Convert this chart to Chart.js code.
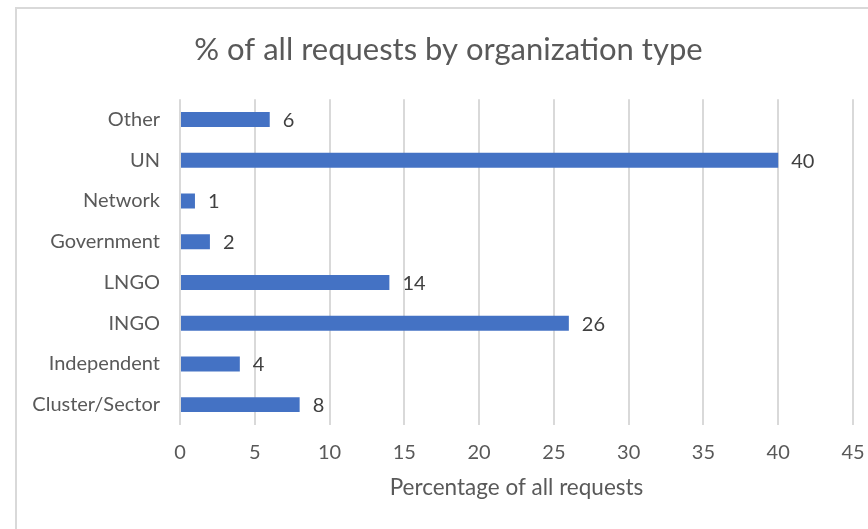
<!DOCTYPE html>
<html><head><meta charset="utf-8">
<script src="https://cdn.jsdelivr.net/npm/chart.js@4"></script>
<style>
html,body{margin:0;padding:0;overflow:hidden;background:#fff;width:868px;height:529px;}
#frame{position:absolute;left:15px;top:7px;width:900px;height:600px;border:2px solid #d9d9d9;box-sizing:border-box;}
#wrap{position:absolute;left:0;top:0;width:868px;height:529px;}
</style></head>
<body>
<div id="frame"></div>
<div id="wrap"><canvas id="c" width="868" height="529"></canvas></div>
<script>
const categories = ["Other","UN","Network","Government","LNGO","INGO","Independent","Cluster/Sector"];
const values = [6,40,1,2,14,26,4,8];
const xTicks = [0,5,10,15,20,25,30,35,40,45];

const FONT = "Lato, 'Open Sans', sans-serif";
const labelPlugin = {
  id:'barLabels',
  afterDatasetsDraw(chart){
    const ctx = chart.ctx;
    const meta = chart.getDatasetMeta(0);
    ctx.save();
    ctx.font = "20px " + FONT;
    ctx.fillStyle = "#404040";
    ctx.textAlign = "left";
    ctx.textBaseline = "middle";
    meta.data.forEach((bar,i)=>{
      ctx.fillText(String(values[i]), bar.x + 13, bar.y + 1);
    });
    ctx.restore();
  }
};

new Chart(document.getElementById('c'), {
  type:'bar',
  data:{labels:categories, datasets:[{data:values, backgroundColor:'#4472C4', borderWidth:0, barPercentage:0.367, categoryPercentage:1}]},
  options:{
    indexAxis:'y', responsive:false, animation:false,
    layout:{padding:{top:0,right:0,left:29,bottom:0}},
    plugins:{
      legend:{display:false}, tooltip:{enabled:false},
      title:{display:true, text:'% of all requests by organization type', color:'#595959',
        font:{family:FONT, size:31, weight:'normal'}, padding:{top:31,bottom:31}}
    },
    scales:{
      x:{min:0,max:45, afterBuildTicks(s){s.ticks = xTicks.map(v=>({value:v}));},
        grid:{color:'#d9d9d9', lineWidth:2, drawTicks:false}, border:{display:false},
        ticks:{color:'#595959', font:{family:FONT,size:20}, padding:16},
        title:{display:true, text:'Percentage of all requests', color:'#595959', font:{family:FONT,size:22.5}, padding:{top:4,bottom:28}},
        afterFit(s){s.height = 104; s.paddingRight = 15; s.paddingLeft = 0;}
      },
      y:{grid:{display:false}, border:{display:false},
        ticks:{color:'#595959', font:{family:FONT,size:20}, padding:12},
        afterFit(s){s.width = 151;}
      }
    }
  },
  plugins:[labelPlugin]
});
</script>
</body></html>
